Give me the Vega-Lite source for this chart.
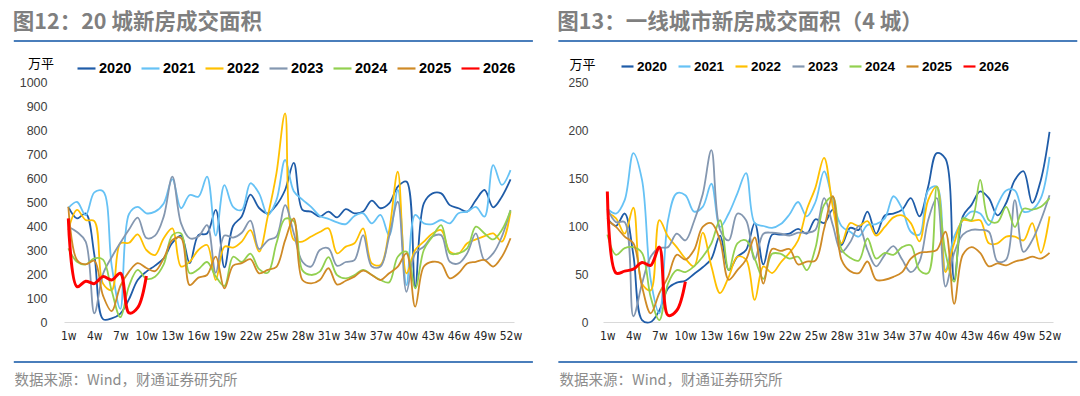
{
"$schema": "https://vega.github.io/schema/vega-lite/v6.json",
"background": "white",
"padding": {"left": 12, "top": 11, "right": 4, "bottom": 4},
"bounds": "flush",
"spacing": 89,
"resolve": {"scale": {"color": "independent"}, "legend": {"color": "independent"}},
"config": {"view": {"stroke": null}, "axis": {"labelOverlap": false, "labelFlush": false}},
"datasets": {
"L": [
{"y":"2020","w":1,"v":480},{"y":"2020","w":2,"v":432},{"y":"2020","w":3,"v":452},{"y":"2020","w":4,"v":280},{"y":"2020","w":5,"v":12},{"y":"2020","w":6,"v":15},{"y":"2020","w":7,"v":35},{"y":"2020","w":8,"v":95},{"y":"2020","w":9,"v":175},{"y":"2020","w":10,"v":210},{"y":"2020","w":11,"v":235},{"y":"2020","w":12,"v":265},{"y":"2020","w":13,"v":330},{"y":"2020","w":14,"v":360},{"y":"2020","w":15,"v":245},{"y":"2020","w":16,"v":362},{"y":"2020","w":17,"v":369},{"y":"2020","w":18,"v":467},{"y":"2020","w":19,"v":228},{"y":"2020","w":20,"v":400},{"y":"2020","w":21,"v":440},{"y":"2020","w":22,"v":531},{"y":"2020","w":23,"v":475},{"y":"2020","w":24,"v":453},{"y":"2020","w":25,"v":487},{"y":"2020","w":26,"v":550},{"y":"2020","w":27,"v":663},{"y":"2020","w":28,"v":467},{"y":"2020","w":29,"v":460},{"y":"2020","w":30,"v":439},{"y":"2020","w":31,"v":460},{"y":"2020","w":32,"v":436},{"y":"2020","w":33,"v":470},{"y":"2020","w":34,"v":453},{"y":"2020","w":35,"v":460},{"y":"2020","w":36,"v":506},{"y":"2020","w":37,"v":474},{"y":"2020","w":38,"v":494},{"y":"2020","w":39,"v":564},{"y":"2020","w":40,"v":585},{"y":"2020","w":41,"v":147},{"y":"2020","w":42,"v":494},{"y":"2020","w":43,"v":536},{"y":"2020","w":44,"v":536},{"y":"2020","w":45,"v":487},{"y":"2020","w":46,"v":474},{"y":"2020","w":47,"v":460},{"y":"2020","w":48,"v":508},{"y":"2020","w":49,"v":550},{"y":"2020","w":50,"v":478},{"y":"2020","w":51,"v":522},{"y":"2020","w":52,"v":594},
{"y":"2021","w":1,"v":474},{"y":"2021","w":2,"v":500},{"y":"2021","w":3,"v":445},{"y":"2021","w":4,"v":540},{"y":"2021","w":5,"v":545},{"y":"2021","w":6,"v":235},{"y":"2021","w":7,"v":55},{"y":"2021","w":8,"v":450},{"y":"2021","w":9,"v":480},{"y":"2021","w":10,"v":453},{"y":"2021","w":11,"v":460},{"y":"2021","w":12,"v":494},{"y":"2021","w":13,"v":595},{"y":"2021","w":14,"v":474},{"y":"2021","w":15,"v":529},{"y":"2021","w":16,"v":522},{"y":"2021","w":17,"v":606},{"y":"2021","w":18,"v":360},{"y":"2021","w":19,"v":570},{"y":"2021","w":20,"v":480},{"y":"2021","w":21,"v":467},{"y":"2021","w":22,"v":578},{"y":"2021","w":23,"v":536},{"y":"2021","w":24,"v":446},{"y":"2021","w":25,"v":508},{"y":"2021","w":26,"v":675},{"y":"2021","w":27,"v":545},{"y":"2021","w":28,"v":510},{"y":"2021","w":29,"v":480},{"y":"2021","w":30,"v":442},{"y":"2021","w":31,"v":430},{"y":"2021","w":32,"v":415},{"y":"2021","w":33,"v":408},{"y":"2021","w":34,"v":442},{"y":"2021","w":35,"v":453},{"y":"2021","w":36,"v":411},{"y":"2021","w":37,"v":446},{"y":"2021","w":38,"v":360},{"y":"2021","w":39,"v":550},{"y":"2021","w":40,"v":154},{"y":"2021","w":41,"v":446},{"y":"2021","w":42,"v":411},{"y":"2021","w":43,"v":408},{"y":"2021","w":44,"v":425},{"y":"2021","w":45,"v":411},{"y":"2021","w":46,"v":453},{"y":"2021","w":47,"v":460},{"y":"2021","w":48,"v":480},{"y":"2021","w":49,"v":439},{"y":"2021","w":50,"v":654},{"y":"2021","w":51,"v":571},{"y":"2021","w":52,"v":633},
{"y":"2022","w":1,"v":383},{"y":"2022","w":2,"v":467},{"y":"2022","w":3,"v":425},{"y":"2022","w":4,"v":420},{"y":"2022","w":5,"v":160},{"y":"2022","w":6,"v":133},{"y":"2022","w":7,"v":328},{"y":"2022","w":8,"v":330},{"y":"2022","w":9,"v":365},{"y":"2022","w":10,"v":300},{"y":"2022","w":11,"v":279},{"y":"2022","w":12,"v":349},{"y":"2022","w":13,"v":390},{"y":"2022","w":14,"v":231},{"y":"2022","w":15,"v":251},{"y":"2022","w":16,"v":300},{"y":"2022","w":17,"v":321},{"y":"2022","w":18,"v":175},{"y":"2022","w":19,"v":314},{"y":"2022","w":20,"v":310},{"y":"2022","w":21,"v":335},{"y":"2022","w":22,"v":383},{"y":"2022","w":23,"v":293},{"y":"2022","w":24,"v":440},{"y":"2022","w":25,"v":619},{"y":"2022","w":26,"v":869},{"y":"2022","w":27,"v":342},{"y":"2022","w":28,"v":335},{"y":"2022","w":29,"v":356},{"y":"2022","w":30,"v":375},{"y":"2022","w":31,"v":390},{"y":"2022","w":32,"v":286},{"y":"2022","w":33,"v":314},{"y":"2022","w":34,"v":328},{"y":"2022","w":35,"v":390},{"y":"2022","w":36,"v":244},{"y":"2022","w":37,"v":238},{"y":"2022","w":38,"v":380},{"y":"2022","w":39,"v":626},{"y":"2022","w":40,"v":203},{"y":"2022","w":41,"v":300},{"y":"2022","w":42,"v":335},{"y":"2022","w":43,"v":369},{"y":"2022","w":44,"v":383},{"y":"2022","w":45,"v":293},{"y":"2022","w":46,"v":286},{"y":"2022","w":47,"v":328},{"y":"2022","w":48,"v":344},{"y":"2022","w":49,"v":358},{"y":"2022","w":50,"v":369},{"y":"2022","w":51,"v":335},{"y":"2022","w":52,"v":460},
{"y":"2023","w":1,"v":397},{"y":"2023","w":2,"v":375},{"y":"2023","w":3,"v":335},{"y":"2023","w":4,"v":36},{"y":"2023","w":5,"v":200},{"y":"2023","w":6,"v":270},{"y":"2023","w":7,"v":330},{"y":"2023","w":8,"v":385},{"y":"2023","w":9,"v":435},{"y":"2023","w":10,"v":350},{"y":"2023","w":11,"v":360},{"y":"2023","w":12,"v":439},{"y":"2023","w":13,"v":606},{"y":"2023","w":14,"v":411},{"y":"2023","w":15,"v":349},{"y":"2023","w":16,"v":356},{"y":"2023","w":17,"v":404},{"y":"2023","w":18,"v":205},{"y":"2023","w":19,"v":360},{"y":"2023","w":20,"v":352},{"y":"2023","w":21,"v":372},{"y":"2023","w":22,"v":422},{"y":"2023","w":23,"v":304},{"y":"2023","w":24,"v":340},{"y":"2023","w":25,"v":356},{"y":"2023","w":26,"v":487},{"y":"2023","w":27,"v":370},{"y":"2023","w":28,"v":251},{"y":"2023","w":29,"v":231},{"y":"2023","w":30,"v":300},{"y":"2023","w":31,"v":307},{"y":"2023","w":32,"v":234},{"y":"2023","w":33,"v":250},{"y":"2023","w":34,"v":258},{"y":"2023","w":35,"v":362},{"y":"2023","w":36,"v":231},{"y":"2023","w":37,"v":231},{"y":"2023","w":38,"v":356},{"y":"2023","w":39,"v":501},{"y":"2023","w":40,"v":126},{"y":"2023","w":41,"v":286},{"y":"2023","w":42,"v":314},{"y":"2023","w":43,"v":356},{"y":"2023","w":44,"v":362},{"y":"2023","w":45,"v":251},{"y":"2023","w":46,"v":244},{"y":"2023","w":47,"v":286},{"y":"2023","w":48,"v":369},{"y":"2023","w":49,"v":258},{"y":"2023","w":50,"v":286},{"y":"2023","w":51,"v":356},{"y":"2023","w":52,"v":467},
{"y":"2024","w":1,"v":307},{"y":"2024","w":2,"v":251},{"y":"2024","w":3,"v":240},{"y":"2024","w":4,"v":265},{"y":"2024","w":5,"v":260},{"y":"2024","w":6,"v":130},{"y":"2024","w":7,"v":20},{"y":"2024","w":8,"v":150},{"y":"2024","w":9,"v":217},{"y":"2024","w":10,"v":180},{"y":"2024","w":11,"v":189},{"y":"2024","w":12,"v":240},{"y":"2024","w":13,"v":362},{"y":"2024","w":14,"v":369},{"y":"2024","w":15,"v":203},{"y":"2024","w":16,"v":220},{"y":"2024","w":17,"v":250},{"y":"2024","w":18,"v":190},{"y":"2024","w":19,"v":150},{"y":"2024","w":20,"v":272},{"y":"2024","w":21,"v":250},{"y":"2024","w":22,"v":285},{"y":"2024","w":23,"v":220},{"y":"2024","w":24,"v":205},{"y":"2024","w":25,"v":328},{"y":"2024","w":26,"v":430},{"y":"2024","w":27,"v":420},{"y":"2024","w":28,"v":215},{"y":"2024","w":29,"v":196},{"y":"2024","w":30,"v":210},{"y":"2024","w":31,"v":270},{"y":"2024","w":32,"v":195},{"y":"2024","w":33,"v":182},{"y":"2024","w":34,"v":196},{"y":"2024","w":35,"v":217},{"y":"2024","w":36,"v":196},{"y":"2024","w":37,"v":175},{"y":"2024","w":38,"v":165},{"y":"2024","w":39,"v":272},{"y":"2024","w":40,"v":293},{"y":"2024","w":41,"v":140},{"y":"2024","w":42,"v":300},{"y":"2024","w":43,"v":356},{"y":"2024","w":44,"v":404},{"y":"2024","w":45,"v":286},{"y":"2024","w":46,"v":286},{"y":"2024","w":47,"v":307},{"y":"2024","w":48,"v":397},{"y":"2024","w":49,"v":369},{"y":"2024","w":50,"v":344},{"y":"2024","w":51,"v":383},{"y":"2024","w":52,"v":464},
{"y":"2025","w":1,"v":480},{"y":"2025","w":2,"v":258},{"y":"2025","w":3,"v":240},{"y":"2025","w":4,"v":255},{"y":"2025","w":5,"v":110},{"y":"2025","w":6,"v":45},{"y":"2025","w":7,"v":150},{"y":"2025","w":8,"v":210},{"y":"2025","w":9,"v":245},{"y":"2025","w":10,"v":225},{"y":"2025","w":11,"v":212},{"y":"2025","w":12,"v":265},{"y":"2025","w":13,"v":342},{"y":"2025","w":14,"v":350},{"y":"2025","w":15,"v":154},{"y":"2025","w":16,"v":185},{"y":"2025","w":17,"v":196},{"y":"2025","w":18,"v":272},{"y":"2025","w":19,"v":140},{"y":"2025","w":20,"v":235},{"y":"2025","w":21,"v":245},{"y":"2025","w":22,"v":262},{"y":"2025","w":23,"v":203},{"y":"2025","w":24,"v":217},{"y":"2025","w":25,"v":230},{"y":"2025","w":26,"v":340},{"y":"2025","w":27,"v":432},{"y":"2025","w":28,"v":175},{"y":"2025","w":29,"v":161},{"y":"2025","w":30,"v":175},{"y":"2025","w":31,"v":224},{"y":"2025","w":32,"v":156},{"y":"2025","w":33,"v":172},{"y":"2025","w":34,"v":189},{"y":"2025","w":35,"v":214},{"y":"2025","w":36,"v":196},{"y":"2025","w":37,"v":175},{"y":"2025","w":38,"v":203},{"y":"2025","w":39,"v":231},{"y":"2025","w":40,"v":286},{"y":"2025","w":41,"v":64},{"y":"2025","w":42,"v":231},{"y":"2025","w":43,"v":251},{"y":"2025","w":44,"v":244},{"y":"2025","w":45,"v":182},{"y":"2025","w":46,"v":203},{"y":"2025","w":47,"v":244},{"y":"2025","w":48,"v":251},{"y":"2025","w":49,"v":258},{"y":"2025","w":50,"v":231},{"y":"2025","w":51,"v":272},{"y":"2025","w":52,"v":349},
{"y":"2026","w":1,"v":432},{"y":"2026","w":2,"v":147},{"y":"2026","w":3,"v":170},{"y":"2026","w":4,"v":160},{"y":"2026","w":5,"v":189},{"y":"2026","w":6,"v":175},{"y":"2026","w":7,"v":203},{"y":"2026","w":8,"v":38},{"y":"2026","w":9,"v":60},{"y":"2026","w":10,"v":192}
],
"R": [
{"y":"2020","w":1,"v":108},{"y":"2020","w":2,"v":100},{"y":"2020","w":3,"v":113},{"y":"2020","w":4,"v":70},{"y":"2020","w":5,"v":2},{"y":"2020","w":6,"v":0},{"y":"2020","w":7,"v":12},{"y":"2020","w":8,"v":35},{"y":"2020","w":9,"v":41},{"y":"2020","w":10,"v":43},{"y":"2020","w":11,"v":50},{"y":"2020","w":12,"v":57},{"y":"2020","w":13,"v":66},{"y":"2020","w":14,"v":90},{"y":"2020","w":15,"v":54},{"y":"2020","w":16,"v":68},{"y":"2020","w":17,"v":75},{"y":"2020","w":18,"v":103},{"y":"2020","w":19,"v":60},{"y":"2020","w":20,"v":91},{"y":"2020","w":21,"v":91},{"y":"2020","w":22,"v":92},{"y":"2020","w":23,"v":97},{"y":"2020","w":24,"v":92},{"y":"2020","w":25,"v":107},{"y":"2020","w":26,"v":103},{"y":"2020","w":27,"v":117},{"y":"2020","w":28,"v":80},{"y":"2020","w":29,"v":98},{"y":"2020","w":30,"v":96},{"y":"2020","w":31,"v":115},{"y":"2020","w":32,"v":92},{"y":"2020","w":33,"v":111},{"y":"2020","w":34,"v":113},{"y":"2020","w":35,"v":117},{"y":"2020","w":36,"v":129},{"y":"2020","w":37,"v":110},{"y":"2020","w":38,"v":141},{"y":"2020","w":39,"v":176},{"y":"2020","w":40,"v":170},{"y":"2020","w":41,"v":44},{"y":"2020","w":42,"v":110},{"y":"2020","w":43,"v":122},{"y":"2020","w":44,"v":136},{"y":"2020","w":45,"v":129},{"y":"2020","w":46,"v":111},{"y":"2020","w":47,"v":124},{"y":"2020","w":48,"v":148},{"y":"2020","w":49,"v":157},{"y":"2020","w":50,"v":124},{"y":"2020","w":51,"v":148},{"y":"2020","w":52,"v":198},
{"y":"2021","w":1,"v":118},{"y":"2021","w":2,"v":113},{"y":"2021","w":3,"v":127},{"y":"2021","w":4,"v":176},{"y":"2021","w":5,"v":148},{"y":"2021","w":6,"v":44},{"y":"2021","w":7,"v":9},{"y":"2021","w":8,"v":106},{"y":"2021","w":9,"v":134},{"y":"2021","w":10,"v":132},{"y":"2021","w":11,"v":115},{"y":"2021","w":12,"v":120},{"y":"2021","w":13,"v":144},{"y":"2021","w":14,"v":99},{"y":"2021","w":15,"v":113},{"y":"2021","w":16,"v":134},{"y":"2021","w":17,"v":155},{"y":"2021","w":18,"v":103},{"y":"2021","w":19,"v":100},{"y":"2021","w":20,"v":98},{"y":"2021","w":21,"v":102},{"y":"2021","w":22,"v":112},{"y":"2021","w":23,"v":125},{"y":"2021","w":24,"v":110},{"y":"2021","w":25,"v":125},{"y":"2021","w":26,"v":157},{"y":"2021","w":27,"v":126},{"y":"2021","w":28,"v":100},{"y":"2021","w":29,"v":94},{"y":"2021","w":30,"v":89},{"y":"2021","w":31,"v":101},{"y":"2021","w":32,"v":102},{"y":"2021","w":33,"v":108},{"y":"2021","w":34,"v":131},{"y":"2021","w":35,"v":118},{"y":"2021","w":36,"v":94},{"y":"2021","w":37,"v":91},{"y":"2021","w":38,"v":137},{"y":"2021","w":39,"v":141},{"y":"2021","w":40,"v":54},{"y":"2021","w":41,"v":89},{"y":"2021","w":42,"v":106},{"y":"2021","w":43,"v":115},{"y":"2021","w":44,"v":113},{"y":"2021","w":45,"v":101},{"y":"2021","w":46,"v":122},{"y":"2021","w":47,"v":137},{"y":"2021","w":48,"v":137},{"y":"2021","w":49,"v":115},{"y":"2021","w":50,"v":117},{"y":"2021","w":51,"v":129},{"y":"2021","w":52,"v":172},
{"y":"2022","w":1,"v":114},{"y":"2022","w":2,"v":108},{"y":"2022","w":3,"v":92},{"y":"2022","w":4,"v":119},{"y":"2022","w":5,"v":40},{"y":"2022","w":6,"v":33},{"y":"2022","w":7,"v":106},{"y":"2022","w":8,"v":89},{"y":"2022","w":9,"v":78},{"y":"2022","w":10,"v":66},{"y":"2022","w":11,"v":58},{"y":"2022","w":12,"v":93},{"y":"2022","w":13,"v":58},{"y":"2022","w":14,"v":30},{"y":"2022","w":15,"v":47},{"y":"2022","w":16,"v":68},{"y":"2022","w":17,"v":65},{"y":"2022","w":18,"v":23},{"y":"2022","w":19,"v":58},{"y":"2022","w":20,"v":51},{"y":"2022","w":21,"v":62},{"y":"2022","w":22,"v":72},{"y":"2022","w":23,"v":85},{"y":"2022","w":24,"v":117},{"y":"2022","w":25,"v":140},{"y":"2022","w":26,"v":171},{"y":"2022","w":27,"v":120},{"y":"2022","w":28,"v":82},{"y":"2022","w":29,"v":103},{"y":"2022","w":30,"v":100},{"y":"2022","w":31,"v":105},{"y":"2022","w":32,"v":90},{"y":"2022","w":33,"v":99},{"y":"2022","w":34,"v":109},{"y":"2022","w":35,"v":111},{"y":"2022","w":36,"v":103},{"y":"2022","w":37,"v":84},{"y":"2022","w":38,"v":127},{"y":"2022","w":39,"v":141},{"y":"2022","w":40,"v":52},{"y":"2022","w":41,"v":82},{"y":"2022","w":42,"v":106},{"y":"2022","w":43,"v":105},{"y":"2022","w":44,"v":106},{"y":"2022","w":45,"v":82},{"y":"2022","w":46,"v":82},{"y":"2022","w":47,"v":89},{"y":"2022","w":48,"v":89},{"y":"2022","w":49,"v":85},{"y":"2022","w":50,"v":103},{"y":"2022","w":51,"v":72},{"y":"2022","w":52,"v":110},
{"y":"2023","w":1,"v":118},{"y":"2023","w":2,"v":104},{"y":"2023","w":3,"v":104},{"y":"2023","w":4,"v":6},{"y":"2023","w":5,"v":40},{"y":"2023","w":6,"v":68},{"y":"2023","w":7,"v":77},{"y":"2023","w":8,"v":78},{"y":"2023","w":9,"v":92},{"y":"2023","w":10,"v":85},{"y":"2023","w":11,"v":105},{"y":"2023","w":12,"v":133},{"y":"2023","w":13,"v":179},{"y":"2023","w":14,"v":96},{"y":"2023","w":15,"v":85},{"y":"2023","w":16,"v":113},{"y":"2023","w":17,"v":106},{"y":"2023","w":18,"v":65},{"y":"2023","w":19,"v":92},{"y":"2023","w":20,"v":93},{"y":"2023","w":21,"v":92},{"y":"2023","w":22,"v":90},{"y":"2023","w":23,"v":93},{"y":"2023","w":24,"v":93},{"y":"2023","w":25,"v":96},{"y":"2023","w":26,"v":129},{"y":"2023","w":27,"v":101},{"y":"2023","w":28,"v":73},{"y":"2023","w":29,"v":83},{"y":"2023","w":30,"v":100},{"y":"2023","w":31,"v":75},{"y":"2023","w":32,"v":58},{"y":"2023","w":33,"v":70},{"y":"2023","w":34,"v":79},{"y":"2023","w":35,"v":65},{"y":"2023","w":36,"v":52},{"y":"2023","w":37,"v":63},{"y":"2023","w":38,"v":106},{"y":"2023","w":39,"v":129},{"y":"2023","w":40,"v":37},{"y":"2023","w":41,"v":72},{"y":"2023","w":42,"v":91},{"y":"2023","w":43,"v":96},{"y":"2023","w":44,"v":96},{"y":"2023","w":45,"v":94},{"y":"2023","w":46,"v":63},{"y":"2023","w":47,"v":65},{"y":"2023","w":48,"v":127},{"y":"2023","w":49,"v":73},{"y":"2023","w":50,"v":85},{"y":"2023","w":51,"v":106},{"y":"2023","w":52,"v":132},
{"y":"2024","w":1,"v":91},{"y":"2024","w":2,"v":70},{"y":"2024","w":3,"v":77},{"y":"2024","w":4,"v":78},{"y":"2024","w":5,"v":72},{"y":"2024","w":6,"v":26},{"y":"2024","w":7,"v":2},{"y":"2024","w":8,"v":40},{"y":"2024","w":9,"v":54},{"y":"2024","w":10,"v":52},{"y":"2024","w":11,"v":58},{"y":"2024","w":12,"v":68},{"y":"2024","w":13,"v":82},{"y":"2024","w":14,"v":106},{"y":"2024","w":15,"v":54},{"y":"2024","w":16,"v":82},{"y":"2024","w":17,"v":85},{"y":"2024","w":18,"v":66},{"y":"2024","w":19,"v":45},{"y":"2024","w":20,"v":71},{"y":"2024","w":21,"v":71},{"y":"2024","w":22,"v":66},{"y":"2024","w":23,"v":68},{"y":"2024","w":24,"v":54},{"y":"2024","w":25,"v":77},{"y":"2024","w":26,"v":122},{"y":"2024","w":27,"v":130},{"y":"2024","w":28,"v":76},{"y":"2024","w":29,"v":67},{"y":"2024","w":30,"v":64},{"y":"2024","w":31,"v":87},{"y":"2024","w":32,"v":66},{"y":"2024","w":33,"v":72},{"y":"2024","w":34,"v":70},{"y":"2024","w":35,"v":78},{"y":"2024","w":36,"v":80},{"y":"2024","w":37,"v":54},{"y":"2024","w":38,"v":51},{"y":"2024","w":39,"v":141},{"y":"2024","w":40,"v":72},{"y":"2024","w":41,"v":42},{"y":"2024","w":42,"v":108},{"y":"2024","w":43,"v":106},{"y":"2024","w":44,"v":148},{"y":"2024","w":45,"v":106},{"y":"2024","w":46,"v":104},{"y":"2024","w":47,"v":120},{"y":"2024","w":48,"v":99},{"y":"2024","w":49,"v":118},{"y":"2024","w":50,"v":117},{"y":"2024","w":51,"v":120},{"y":"2024","w":52,"v":129},
{"y":"2025","w":1,"v":106},{"y":"2025","w":2,"v":99},{"y":"2025","w":3,"v":89},{"y":"2025","w":4,"v":82},{"y":"2025","w":5,"v":37},{"y":"2025","w":6,"v":9},{"y":"2025","w":7,"v":30},{"y":"2025","w":8,"v":47},{"y":"2025","w":9,"v":70},{"y":"2025","w":10,"v":65},{"y":"2025","w":11,"v":75},{"y":"2025","w":12,"v":99},{"y":"2025","w":13,"v":103},{"y":"2025","w":14,"v":85},{"y":"2025","w":15,"v":44},{"y":"2025","w":16,"v":54},{"y":"2025","w":17,"v":65},{"y":"2025","w":18,"v":88},{"y":"2025","w":19,"v":40},{"y":"2025","w":20,"v":76},{"y":"2025","w":21,"v":74},{"y":"2025","w":22,"v":76},{"y":"2025","w":23,"v":60},{"y":"2025","w":24,"v":63},{"y":"2025","w":25,"v":64},{"y":"2025","w":26,"v":97},{"y":"2025","w":27,"v":131},{"y":"2025","w":28,"v":65},{"y":"2025","w":29,"v":53},{"y":"2025","w":30,"v":51},{"y":"2025","w":31,"v":63},{"y":"2025","w":32,"v":44},{"y":"2025","w":33,"v":44},{"y":"2025","w":34,"v":47},{"y":"2025","w":35,"v":52},{"y":"2025","w":36,"v":66},{"y":"2025","w":37,"v":72},{"y":"2025","w":38,"v":73},{"y":"2025","w":39,"v":75},{"y":"2025","w":40,"v":94},{"y":"2025","w":41,"v":19},{"y":"2025","w":42,"v":70},{"y":"2025","w":43,"v":78},{"y":"2025","w":44,"v":72},{"y":"2025","w":45,"v":58},{"y":"2025","w":46,"v":61},{"y":"2025","w":47,"v":59},{"y":"2025","w":48,"v":63},{"y":"2025","w":49,"v":65},{"y":"2025","w":50,"v":68},{"y":"2025","w":51,"v":66},{"y":"2025","w":52,"v":72},
{"y":"2026","w":1,"v":136},{"y":"2026","w":2,"v":51},{"y":"2026","w":3,"v":53},{"y":"2026","w":4,"v":55},{"y":"2026","w":5,"v":62},{"y":"2026","w":6,"v":59},{"y":"2026","w":7,"v":78},{"y":"2026","w":8,"v":7},{"y":"2026","w":9,"v":12},{"y":"2026","w":10,"v":42}
]
},
"hconcat": [
{
"width": 450, "height": 240,
"title": {"text": "图12：20 城新房成交面积", "anchor": "start", "frame": "bounds", "offset": 7, "fontSize": 21.5, "font": "Noto Sans CJK SC", "fontWeight": "bold", "color": "#7f7f7f"},
"layer": [
{"data": {"values": [{}]},
 "mark": {"type": "rule", "color": "#4a7ebb", "strokeWidth": 2},
 "encoding": {
   "x": {"datum": -5.29, "type": "quantitative", "scale": {"domain": [0.5, 52.4], "nice": false, "zero": false},
     "axis": {"values": [1,4,7,10,13,16,19,22,25,28,31,34,37,40,43,46,49,52], "labelExpr": "datum.value + 'w'", "ticks": false, "grid": false, "domainColor": "#d9d9d9", "labelPadding": 8, "labelFont": "Liberation Sans Narrow, DejaVu Sans Condensed, Liberation Sans, sans-serif", "labelFontSize": 12, "labelColor": "#262626", "labelFlush": false, "labelOverlap": false,
       "title": "数据来源：Wind，财通证券研究所", "titleX": -50, "titleY": 58, "titleAlign": "left", "titleBaseline": "middle", "titleFont": "Noto Sans CJK SC", "titleFontSize": 14.5, "titleFontWeight": "normal", "titleColor": "#8c8c8c"}},
   "x2": {"datum": 54.58},
   "y": {"datum": 1170.8, "type": "quantitative", "scale": {"domain": [0, 1000], "nice": false},
     "axis": {"values": [0,100,200,300,400,500,600,700,800,900,1000], "format": "d", "domain": false, "ticks": false, "grid": false, "labelPadding": 17, "labelFont": "Liberation Sans", "labelFontSize": 12.5, "labelColor": "#404040", "labelFlush": false, "labelOverlap": false,
       "title": "万平", "titleAngle": 0, "titleX": -23.5, "titleY": -19, "titleAlign": "center", "titleBaseline": "middle", "titleFont": "Noto Sans CJK SC", "titleFontSize": 13, "titleFontWeight": "normal", "titleColor": "#000000"}}}},
{"data": {"values": [{}]},
 "mark": {"type": "rule", "color": "#4a7ebb", "strokeWidth": 2},
 "encoding": {
   "x": {"datum": -5.29, "type": "quantitative", "scale": {"domain": [0.5, 52.4], "nice": false, "zero": false},
     "axis": {"values": [1,4,7,10,13,16,19,22,25,28,31,34,37,40,43,46,49,52], "labelExpr": "datum.value + 'w'", "ticks": false, "grid": false, "domainColor": "#d9d9d9", "labelPadding": 8, "labelFont": "Liberation Sans Narrow, DejaVu Sans Condensed, Liberation Sans, sans-serif", "labelFontSize": 12, "labelColor": "#262626", "labelFlush": false, "labelOverlap": false,
       "title": "数据来源：Wind，财通证券研究所", "titleX": -50, "titleY": 58, "titleAlign": "left", "titleBaseline": "middle", "titleFont": "Noto Sans CJK SC", "titleFontSize": 14.5, "titleFontWeight": "normal", "titleColor": "#8c8c8c"}},
   "x2": {"datum": 54.58},
   "y": {"datum": -166.7, "type": "quantitative", "scale": {"domain": [0, 1000], "nice": false},
     "axis": {"values": [0,100,200,300,400,500,600,700,800,900,1000], "format": "d", "domain": false, "ticks": false, "grid": false, "labelPadding": 17, "labelFont": "Liberation Sans", "labelFontSize": 12.5, "labelColor": "#404040", "labelFlush": false, "labelOverlap": false,
       "title": "万平", "titleAngle": 0, "titleX": -23.5, "titleY": -19, "titleAlign": "center", "titleBaseline": "middle", "titleFont": "Noto Sans CJK SC", "titleFontSize": 13, "titleFontWeight": "normal", "titleColor": "#000000"}}}},
{"data": {"name": "L"},
 "mark": {"type": "line", "interpolate": "catmull-rom"},
 "encoding": {
   "x": {"field": "w", "type": "quantitative", "scale": {"domain": [0.5, 52.4], "nice": false, "zero": false},
     "axis": {"values": [1,4,7,10,13,16,19,22,25,28,31,34,37,40,43,46,49,52], "labelExpr": "datum.value + 'w'", "ticks": false, "grid": false, "domainColor": "#d9d9d9", "labelPadding": 8, "labelFont": "Liberation Sans Narrow, DejaVu Sans Condensed, Liberation Sans, sans-serif", "labelFontSize": 12, "labelColor": "#262626", "labelFlush": false, "labelOverlap": false,
       "title": "数据来源：Wind，财通证券研究所", "titleX": -50, "titleY": 58, "titleAlign": "left", "titleBaseline": "middle", "titleFont": "Noto Sans CJK SC", "titleFontSize": 14.5, "titleFontWeight": "normal", "titleColor": "#8c8c8c"}},
   "y": {"field": "v", "type": "quantitative", "scale": {"domain": [0, 1000], "nice": false},
     "axis": {"values": [0,100,200,300,400,500,600,700,800,900,1000], "format": "d", "domain": false, "ticks": false, "grid": false, "labelPadding": 17, "labelFont": "Liberation Sans", "labelFontSize": 12.5, "labelColor": "#404040", "labelFlush": false, "labelOverlap": false,
       "title": "万平", "titleAngle": 0, "titleX": -23.5, "titleY": -19, "titleAlign": "center", "titleBaseline": "middle", "titleFont": "Noto Sans CJK SC", "titleFontSize": 13, "titleFontWeight": "normal", "titleColor": "#000000"}},
   "color": {"field": "y", "type": "nominal",
     "scale": {"domain": ["2020","2021","2022","2023","2024","2025","2026"], "range": ["#1f5ca8","#66c2f5","#ffc000","#8497b0","#92d050","#cf8a26","#ff0000"]},
     "legend": {"title": null, "orient": "none", "legendX": 12, "legendY": -24, "direction": "horizontal", "columns": 7, "symbolType": "stroke", "symbolSize": 324, "symbolStrokeWidth": 2.2, "labelFont": "Liberation Sans", "labelFontSize": 14.5, "labelFontWeight": "bold", "labelColor": "#000000", "labelOffset": 2, "columnPadding": 5, "padding": 0}},
   "strokeWidth": {"condition": {"test": "datum.y === '2026'", "value": 3}, "value": 1.8}
 }}
]
},
{
"width": 450, "height": 240,
"title": {"text": "图13：一线城市新房成交面积（4 城）", "anchor": "start", "frame": "bounds", "offset": 7, "fontSize": 21.5, "font": "Noto Sans CJK SC", "fontWeight": "bold", "color": "#7f7f7f"},
"layer": [
{"data": {"values": [{}]},
 "mark": {"type": "rule", "color": "#4a7ebb", "strokeWidth": 2},
 "encoding": {
   "x": {"datum": -4.65, "type": "quantitative", "scale": {"domain": [0.5, 52.4], "nice": false, "zero": false},
     "axis": {"values": [1,4,7,10,13,16,19,22,25,28,31,34,37,40,43,46,49,52], "labelExpr": "datum.value + 'w'", "ticks": false, "grid": false, "domainColor": "#d9d9d9", "labelPadding": 8, "labelFont": "Liberation Sans Narrow, DejaVu Sans Condensed, Liberation Sans, sans-serif", "labelFontSize": 12, "labelColor": "#262626", "labelFlush": false, "labelOverlap": false,
       "title": "数据来源：Wind，财通证券研究所", "titleX": -44, "titleY": 58, "titleAlign": "left", "titleBaseline": "middle", "titleFont": "Noto Sans CJK SC", "titleFontSize": 14.5, "titleFontWeight": "normal", "titleColor": "#8c8c8c"}},
   "x2": {"datum": 55.2},
   "y": {"datum": 292.7, "type": "quantitative", "scale": {"domain": [0, 250], "nice": false},
     "axis": {"values": [0,50,100,150,200,250], "format": "d", "domain": false, "ticks": false, "grid": false, "labelPadding": 15, "labelFont": "Liberation Sans", "labelFontSize": 12, "labelColor": "#404040", "labelFlush": false, "labelOverlap": false,
       "title": "万平", "titleAngle": 0, "titleX": -21, "titleY": -18, "titleAlign": "center", "titleBaseline": "middle", "titleFont": "Noto Sans CJK SC", "titleFontSize": 13, "titleFontWeight": "normal", "titleColor": "#000000"}}}},
{"data": {"values": [{}]},
 "mark": {"type": "rule", "color": "#4a7ebb", "strokeWidth": 2},
 "encoding": {
   "x": {"datum": -4.65, "type": "quantitative", "scale": {"domain": [0.5, 52.4], "nice": false, "zero": false},
     "axis": {"values": [1,4,7,10,13,16,19,22,25,28,31,34,37,40,43,46,49,52], "labelExpr": "datum.value + 'w'", "ticks": false, "grid": false, "domainColor": "#d9d9d9", "labelPadding": 8, "labelFont": "Liberation Sans Narrow, DejaVu Sans Condensed, Liberation Sans, sans-serif", "labelFontSize": 12, "labelColor": "#262626", "labelFlush": false, "labelOverlap": false,
       "title": "数据来源：Wind，财通证券研究所", "titleX": -44, "titleY": 58, "titleAlign": "left", "titleBaseline": "middle", "titleFont": "Noto Sans CJK SC", "titleFontSize": 14.5, "titleFontWeight": "normal", "titleColor": "#8c8c8c"}},
   "x2": {"datum": 55.2},
   "y": {"datum": -41.7, "type": "quantitative", "scale": {"domain": [0, 250], "nice": false},
     "axis": {"values": [0,50,100,150,200,250], "format": "d", "domain": false, "ticks": false, "grid": false, "labelPadding": 15, "labelFont": "Liberation Sans", "labelFontSize": 12, "labelColor": "#404040", "labelFlush": false, "labelOverlap": false,
       "title": "万平", "titleAngle": 0, "titleX": -21, "titleY": -18, "titleAlign": "center", "titleBaseline": "middle", "titleFont": "Noto Sans CJK SC", "titleFontSize": 13, "titleFontWeight": "normal", "titleColor": "#000000"}}}},
{"data": {"name": "R"},
 "mark": {"type": "line", "interpolate": "catmull-rom"},
 "encoding": {
   "x": {"field": "w", "type": "quantitative", "scale": {"domain": [0.5, 52.4], "nice": false, "zero": false},
     "axis": {"values": [1,4,7,10,13,16,19,22,25,28,31,34,37,40,43,46,49,52], "labelExpr": "datum.value + 'w'", "ticks": false, "grid": false, "domainColor": "#d9d9d9", "labelPadding": 8, "labelFont": "Liberation Sans Narrow, DejaVu Sans Condensed, Liberation Sans, sans-serif", "labelFontSize": 12, "labelColor": "#262626", "labelFlush": false, "labelOverlap": false,
       "title": "数据来源：Wind，财通证券研究所", "titleX": -44, "titleY": 58, "titleAlign": "left", "titleBaseline": "middle", "titleFont": "Noto Sans CJK SC", "titleFontSize": 14.5, "titleFontWeight": "normal", "titleColor": "#8c8c8c"}},
   "y": {"field": "v", "type": "quantitative", "scale": {"domain": [0, 250], "nice": false},
     "axis": {"values": [0,50,100,150,200,250], "format": "d", "domain": false, "ticks": false, "grid": false, "labelPadding": 15, "labelFont": "Liberation Sans", "labelFontSize": 12, "labelColor": "#404040", "labelFlush": false, "labelOverlap": false,
       "title": "万平", "titleAngle": 0, "titleX": -21, "titleY": -18, "titleAlign": "center", "titleBaseline": "middle", "titleFont": "Noto Sans CJK SC", "titleFontSize": 13, "titleFontWeight": "normal", "titleColor": "#000000"}},
   "color": {"field": "y", "type": "nominal",
     "scale": {"domain": ["2020","2021","2022","2023","2024","2025","2026"], "range": ["#1f5ca8","#66c2f5","#ffc000","#8497b0","#92d050","#cf8a26","#ff0000"]},
     "legend": {"title": null, "orient": "none", "legendX": 17, "legendY": -23, "direction": "horizontal", "columns": 7, "symbolType": "stroke", "symbolSize": 144, "symbolStrokeWidth": 2.2, "labelFont": "Liberation Sans", "labelFontSize": 13.5, "labelFontWeight": "bold", "labelColor": "#000000", "labelOffset": 2, "columnPadding": 6, "padding": 0}},
   "strokeWidth": {"condition": {"test": "datum.y === '2026'", "value": 3}, "value": 1.8}
 }}
]
}
]
}
